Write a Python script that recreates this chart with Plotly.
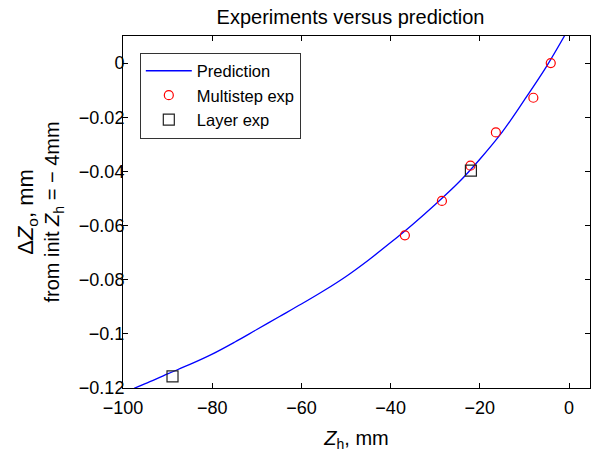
import plotly.graph_objects as go

# Prediction curve
pred_x = [-97.5, -95, -90, -85, -80, -75, -70, -65, -60, -55, -50, -45, -40, -35, -30, -25, -20, -15, -10, -5, -1]
pred_y = [-0.1201, -0.1184, -0.1148, -0.1113, -0.1075, -0.1031, -0.0984, -0.0937, -0.0890, -0.0841,
          -0.0788, -0.0728, -0.0663, -0.0595, -0.0522, -0.0445, -0.0355, -0.0255, -0.0136, -0.0011, 0.0101]

# Multistep experiments
multi_x = [-36.8, -28.5, -22.1, -16.4, -8.0, -4.1]
multi_y = [-0.0636, -0.0509, -0.0379, -0.0256, -0.0128, 0.0]

# Layer experiments
layer_x = [-88.9, -22.0]
layer_y = [-0.1157, -0.0397]

x_ticks = [-100, -80, -60, -40, -20, 0]
y_ticks = [0, -0.02, -0.04, -0.06, -0.08, -0.1, -0.12]
y_tick_text = ["0", "\u22120.02", "\u22120.04", "\u22120.06", "\u22120.08", "\u22120.1", "\u22120.12"]
x_tick_text = ["\u2212100", "\u221280", "\u221260", "\u221240", "\u221220", "0"]

FONT = "Liberation Sans, Arial, sans-serif"

fig = go.Figure()
fig.add_trace(go.Scatter(x=pred_x, y=pred_y, mode="lines", name="Prediction",
                         line=dict(color="#0000ff", width=1.3, shape="spline")))
fig.add_trace(go.Scatter(x=multi_x, y=multi_y, mode="markers", name="Multistep exp",
                         marker=dict(symbol="circle-open", color="#ff0000", size=9,
                                     line=dict(width=1.2, color="#ff0000"))))
fig.add_trace(go.Scatter(x=layer_x, y=layer_y, mode="markers", name="Layer exp",
                         marker=dict(symbol="square-open", color="#222222", size=11,
                                     line=dict(width=1.2, color="#222222"))))

fig.update_layout(
    width=591, height=453,
    margin=dict(l=123, r=1, t=36, b=65),
    paper_bgcolor="white", plot_bgcolor="white",
    font=dict(family=FONT, size=17, color="black"),
    title=dict(text="Experiments versus prediction", x=350.5 / 591, xanchor="center",
               y=1 - 17 / 453, yanchor="middle", font=dict(size=20, color="black")),
    showlegend=True,
    legend=dict(x=0.036, y=0.953, xanchor="left", yanchor="top",
                bordercolor="#333333", borderwidth=1, bgcolor="white",
                font=dict(size=16.5), tracegroupgap=0, itemwidth=46,
                entrywidth=116, entrywidthmode="pixels"),
    xaxis=dict(range=[-100, 4.7], tickvals=x_ticks, ticktext=x_tick_text,
               ticks="inside", ticklen=5, tickcolor="black", showline=True, linecolor="black",
               linewidth=1, mirror="ticks", showgrid=False, zeroline=False,
               tickfont=dict(size=18), ticklabelstandoff=3,
               title=dict(text="<i>Z</i><sub>h</sub>, mm", font=dict(size=20), standoff=14)),
    yaxis=dict(range=[-0.12, 0.01], tickvals=y_ticks, ticktext=y_tick_text,
               ticks="inside", ticklen=5, tickcolor="black", showline=True, linecolor="black",
               linewidth=1, mirror="ticks", showgrid=False, zeroline=False,
               tickfont=dict(size=18), ticklabelstandoff=-6,
               title=dict(text="<span style=\"font-size:22px\">\u0394<i>Z</i><sub>o</sub>, mm</span>"
                               "<br>from init <i>Z</i><sub>h</sub> = \u2212 4mm",
                          font=dict(size=20), standoff=13)),
)

fig.write_html("out.html")
